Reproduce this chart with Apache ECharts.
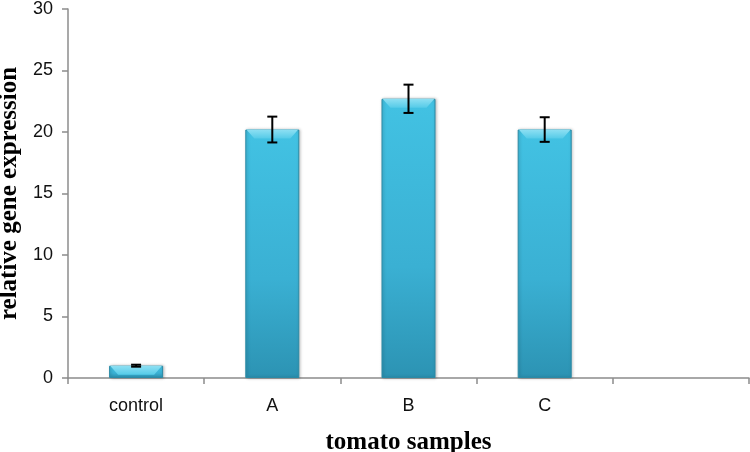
<!DOCTYPE html>
<html>
<head>
<meta charset="utf-8">
<script src="https://cdn.jsdelivr.net/npm/echarts@6/dist/echarts.min.js"></script>
<style>
  html, body { margin: 0; padding: 0; background: #fff; }
  #chart { width: 750px; height: 452px; }
</style>
</head>
<body>
<div id="chart"></div>
<script>
// 数据
var categories = ['control', 'A', 'B', 'C', ''];
var values = [1.0, 20.2, 22.7, 20.2, null];
var errors = [0.08, 1.05, 1.15, 1.0, null];
var yTicks = [0, 5, 10, 15, 20, 25, 30];

var chart = echarts.init(document.getElementById('chart'));

// 误差线数据 [index, low, high]
var errData = [];
for (var i = 0; i < values.length; i++) {
    if (values[i] != null) {
        errData.push([i, values[i] - errors[i], values[i] + errors[i]]);
    }
}

var labelFont = "'Liberation Sans Narrow', 'Liberation Sans', Arial, sans-serif";
var titleFont = "'Liberation Serif', 'Times New Roman', serif";

var option = {
    animation: false,
    backgroundColor: '#fff',
    grid: { left: 68, right: 1, top: 9, bottom: 74, outerBoundsMode: 'none', containLabel: false },
    xAxis: {
        type: 'category',
        data: categories,
        name: 'tomato samples',
        nameLocation: 'middle',
        nameGap: 52,
        nameTextStyle: { fontFamily: titleFont, fontWeight: 'bold', fontSize: 25, color: '#000' },
        axisLine: { lineStyle: { color: '#8c8c8c', width: 1.5 } },
        axisTick: { show: true, length: 6, lineStyle: { color: '#8c8c8c', width: 1.5 } },
        axisLabel: { fontFamily: labelFont, fontSize: 18, color: '#111', margin: 19 }
    },
    yAxis: {
        type: 'value',
        min: yTicks[0],
        max: yTicks[yTicks.length - 1],
        interval: 5,
        name: 'relative gene expression',
        nameLocation: 'middle',
        nameGap: 45,
        nameTextStyle: { fontFamily: titleFont, fontWeight: 'bold', fontSize: 25, color: '#000' },
        axisLine: { show: true, lineStyle: { color: '#8c8c8c', width: 1.5 } },
        axisTick: { show: true, length: 6, lineStyle: { color: '#8c8c8c', width: 1.5 } },
        splitLine: { show: false },
        axisLabel: { fontFamily: labelFont, fontSize: 18, color: '#111', margin: 15 }
    },
    series: [
        {
            type: 'bar',
            data: values,
            barWidth: 54,
            itemStyle: {
                color: new echarts.graphic.LinearGradient(0, 0, 0, 1, [
                    { offset: 0, color: '#42c2e3' },
                    { offset: 0.6, color: '#3ab0d3' },
                    { offset: 1, color: '#2c93b3' }
                ]),
                borderColor: '#2a8aa6',
                borderWidth: 1,
                shadowColor: 'rgba(0,0,0,0.25)',
                shadowBlur: 3,
                shadowOffsetX: 1
            },
            z: 2
        },
        {
            // 顶部斜面高光
            type: 'custom',
            data: values.map(function (v, i) { return v == null ? null : [i, v]; }).filter(function (d) { return d; }),
            renderItem: function (params, api) {
                var top = api.coord([api.value(0), api.value(1)]);
                var bot = api.coord([api.value(0), 0]);
                var hw = 26;
                var h = Math.min(9, (bot[1] - top[1]) * 0.8);
                return {
                    type: 'polygon',
                    shape: { points: [
                        [top[0] - hw, top[1]], [top[0] + hw, top[1]],
                        [top[0] + hw - 8, top[1] + h], [top[0] - hw + 8, top[1] + h]
                    ] },
                    style: {
                        fill: new echarts.graphic.LinearGradient(0, 0, 0, 1, [
                            { offset: 0, color: '#8fe0f3' },
                            { offset: 1, color: '#55cbe8' }
                        ])
                    }
                };
            },
            z: 3
        },
        {
            // 误差线
            type: 'custom',
            data: errData,
            renderItem: function (params, api) {
                var x = api.value(0);
                var lo = api.coord([x, api.value(1)]);
                var hi = api.coord([x, api.value(2)]);
                var cap = 5;
                var st = { stroke: '#000', lineWidth: 2 };
                return {
                    type: 'group',
                    children: [
                        { type: 'line', shape: { x1: lo[0], y1: lo[1], x2: hi[0], y2: hi[1] }, style: st },
                        { type: 'line', shape: { x1: lo[0] - cap, y1: lo[1], x2: lo[0] + cap, y2: lo[1] }, style: st },
                        { type: 'line', shape: { x1: hi[0] - cap, y1: hi[1], x2: hi[0] + cap, y2: hi[1] }, style: st }
                    ]
                };
            },
            z: 4
        }
    ]
};

chart.setOption(option);
</script>
</body>
</html>
